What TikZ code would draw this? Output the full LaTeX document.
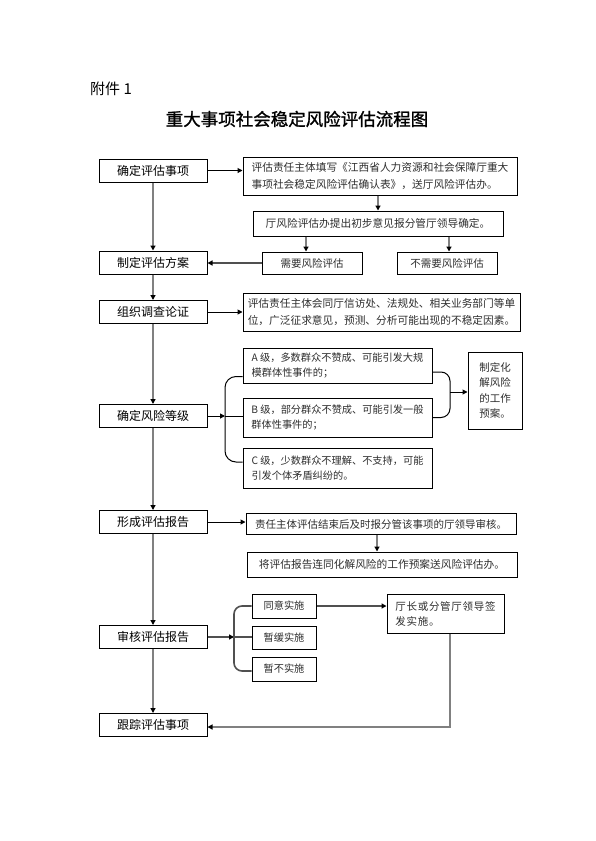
\documentclass[tikz,border=0pt]{standalone}
\usepackage{fontspec}
\setmainfont{Liberation Sans}
\newfontfamily\cjk{Noto Sans CJK SC}
\newfontfamily\cjktitle{Noto Sans CJK SC}[FakeBold=1.2]
\newfontfamily\cjkls{Noto Sans CJK SC}[LetterSpace=7]
\usetikzlibrary{arrows.meta}
\definecolor{lgray}{RGB}{128,128,128}
\definecolor{dgray}{RGB}{80,80,80}
\definecolor{txtgray}{RGB}{45,45,45}
\begin{document}
\begin{tikzpicture}[x=1pt,y=-1pt,
  >={Triangle[length=5pt,width=5pt,color=black]},
  wh/.style 2 args={minimum width=#1pt, minimum height=#2pt},
  box/.style={draw=black, line width=1pt, inner sep=0pt, align=left, text=txtgray,
    font=\cjk\fontsize{10.7}{17}\selectfont},
  abox/.style={box, font=\cjk\fontsize{10.2}{15.5}\selectfont},
  sbox/.style={box, font=\cjk\fontsize{10.2}{12}\selectfont},
  lbox/.style={draw=black, line width=1pt, inner sep=0pt, wh={108}{23}, text=black,
    font=\cjk\fontsize{12}{14}\selectfont},
  hl/.style={draw=black, line width=1pt},
  ml/.style={draw=dgray, line width=1.6pt},
  vl/.style={draw=lgray, line width=2pt}]
\useasboundingbox (0,0) rectangle (595,841);

% heading
\node[anchor=west, inner sep=0pt, font=\cjk\fontsize{15}{18}\selectfont] (att) at (90,89) {附件 1};
\node[inner sep=0pt, font=\cjktitle\fontsize{17.5}{20}\selectfont] (title) at (297,119) {重大事项社会稳定风险评估流程图};

% left column
\node[lbox] (n1) at (153,170.5) {确定评估事项};
\node[lbox] (n2) at (153,262.5) {制定评估方案};
\node[lbox] (n3) at (153,312) {组织调查论证};
\node[lbox] (n4) at (153,416) {确定风险等级};
\node[lbox] (n5) at (153,522) {形成评估报告};
\node[lbox] (n6) at (153,637) {审核评估报告};
\node[lbox] (n7) at (153,725) {跟踪评估事项};

% right side
\node[box, wh={274}{38}] (r1) at (380,176) {评估责任主体填写《江西省人力资源和社会保障厅重大\\事项社会稳定风险评估确认表》，送厅风险评估办。};
\node[box, wh={250}{25}] (r2) at (378,223.5) {厅风险评估办提出初步意见报分管厅领导确定。};
\node[box, wh={100}{22}, font=\cjk\fontsize{10.5}{12}\selectfont] (need) at (312,263) {需要风险评估};
\node[box, wh={100}{22}, font=\cjk\fontsize{10.5}{12}\selectfont] (noneed) at (447,263) {不需要风险评估};
\node[box, wh={277}{38}] (r3) at (381.5,312) {评估责任主体会同厅信访处、法规处、相关业务部门等单\\位，广泛征求意见，预测、分析可能出现的不稳定因素。};

\node[abox, wh={189}{35}] (A) at (337.5,365.5) {A 级，多数群众不赞成、可能引发大规\\模群体性事件的；};
\node[abox, wh={189}{39}] (B) at (337.5,417.5) {B 级，部分群众不赞成、可能引发一般\\群体性事件的；};
\node[abox, wh={189}{40}] (C) at (337.5,468) {C 级，少数群众不理解、不支持，可能\\引发个体矛盾纠纷的。};
\node[box, wh={54}{77}, font=\cjk\fontsize{10.5}{15.5}\selectfont] (plan) at (495,390.5) {制定化\\解风险\\的工作\\预案。};

\node[box, wh={270}{21}, font=\cjk\fontsize{10.5}{12}\selectfont] (r5) at (381,524) {责任主体评估结束后及时报分管该事项的厅领导审核。};
\node[box, wh={270}{25}] (r6) at (382,564.5) {将评估报告连同化解风险的工作预案送风险评估办。};

\node[sbox, wh={64}{24}] (s1) at (284,606) {同意实施};
\node[sbox, wh={64}{23}] (s2) at (284,637.5) {暂缓实施};
\node[sbox, wh={64}{24}] (s3) at (284,669) {暂不实施};
\node[box, wh={117}{39}, font=\cjkls\fontsize{10.5}{15}\selectfont] (lead) at (445.5,613.5) {厅长或分管厅领导签\\发实施。};

% bracket junctions
\coordinate (brL) at (225,416);
\coordinate (brR) at (450,392);
\coordinate (brS) at (234,637);

% connectors: left column
\draw[vl,->] (n1.south) -- (n2.north);
\draw[vl,->] (n2.south) -- (n3.north);
\draw[vl,->] (n3.south) -- (n4.north);
\draw[vl,->] (n4.south) -- (n5.north);
\draw[vl,->] (n5.south) -- (n6.north);
\draw[vl,->] (n6.south) -- (n7.north);

% step 1
\draw[hl,->] (n1.east) -- (n1.east -| r1.west);
\draw[vl,->] (r1.south -| r2.north) -- (r2.north);
\draw[vl,->] ([xshift=-6pt]need.north |- r2.south) -- ([xshift=-6pt]need.north);
\draw[vl,->] ([xshift=2pt]noneed.north |- r2.south) -- ([xshift=2pt]noneed.north);
\draw[ml,->] (need.west) -- (need.west -| n2.east);

% step 3
\draw[hl,->] (n3.east) -- (n3.east -| r3.west);

% step 4
\draw[hl,->] (n4.east) -- (brL);
\draw[hl] (brL) -- (brL -| B.west);
\draw[hl, rounded corners=11pt] ([yshift=7pt]A.south west) -| (brL) |- ([yshift=6pt]C.west);
\draw[hl, rounded corners=9pt] ([yshift=-6.5pt]A.east) -| (brR) |- (B.east);
\draw[hl,->] (brR) -- (brR -| plan.west);

% step 5
\draw[hl,->] (n5.east) -- (n5.east -| r5.west);
\draw[vl,->] ([xshift=-4pt]r5.south) -- ([xshift=-4pt]r5.south |- r6.north);

% step 6
\draw[ml,->] (n6.east) -- (brS);
\draw[ml] (brS) -- (brS -| s2.west);
\draw[ml, rounded corners=8pt] (s1.west) -| (brS) |- ([yshift=-2pt]s3.west);
\draw[ml,->] (s1.east) -- (s1.east -| lead.west);
\draw[vl,->] ([xshift=4.5pt]lead.south) |- ([yshift=-2pt]n7.east);
\end{tikzpicture}
\end{document}
